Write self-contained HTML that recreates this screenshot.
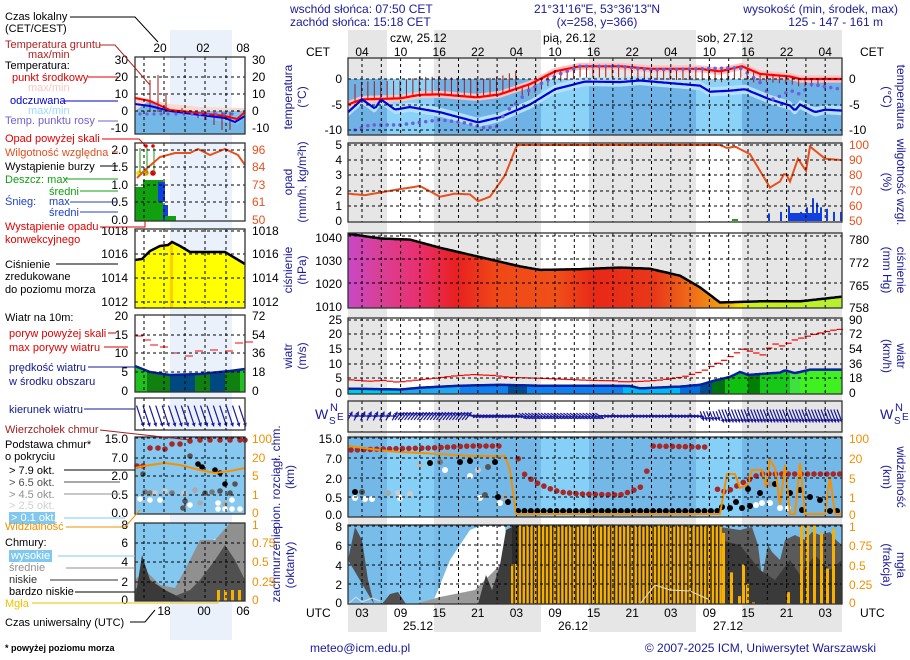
<!DOCTYPE html>
<html><head><meta charset="utf-8">
<style>
html,body{margin:0;padding:0;background:#fff;}
svg{display:block;font-family:"Liberation Sans",sans-serif;}
</style></head>
<body>
<svg id="s" xmlns="http://www.w3.org/2000/svg" width="910" height="660" viewBox="0 0 910 660"></svg>
<script>
const S=document.getElementById('s');let H='';
function add(s){H+=s;}
function pl(pts){return pts.map(p=>p[0].toFixed(1)+','+p[1].toFixed(1)).join(' ');}
function line(pts,c,w,ex){add(`<polyline points="${pl(pts)}" fill="none" stroke="${c}" stroke-width="${w}" ${ex||''}/>`);}
function poly(pts,f,ex){add(`<polygon points="${pl(pts)}" fill="${f}" ${ex||''}/>`);}
function rect(x,y,w,h,f,ex){add(`<rect x="${x}" y="${y}" width="${w}" height="${h}" fill="${f}" ${ex||''}/>`);}
function txt(x,y,t,o){o=o||{};add(`<text x="${x}" y="${y}" font-size="${o.fs||12}" fill="${o.c||'#000'}" text-anchor="${o.a||'start'}" ${o.ex||''}>${t}</text>`);}
function interp(d,x){if(x<=d[0][0])return d[0][1];for(let i=1;i<d.length;i++){if(x<=d[i][0]){const a=d[i-1],b=d[i];return a[1]+(b[1]-a[1])*(x-a[0])/(b[0]-a[0]);}}return d[d.length-1][1];}
function curve(d,fy,step){const r=[];for(let x=d[0][0];x<=d[d.length-1][0]+0.01;x+=(step||2))r.push([x,fy(interp(d,x))]);return r;}
const X0=348,X1=842;const NAVY='#1a1a9a';
const nights=[[348,387],[434,541],[589,696],[742,842]];
nights.forEach(n=>rect(n[0],30,n[1]-n[0],602,'#e6e6e6'));
rect(170,30,62,610,'#eaf1fb');
function dayBlue(y0,y1,night,day){rect(X0,y0,X1-X0,y1-y0,day);nights.forEach(n=>rect(n[0],y0,n[1]-n[0],y1-y0,night));}
function vgrid(y0,y1){for(let k=0;k<25;k++){const x=362+19.3*k;if(x<X1)add(`<line x1="${x}" y1="${y0}" x2="${x}" y2="${y1}" stroke="#000" stroke-width="1" stroke-dasharray="3,3"/>`);}}
function hgrid(ys,x0,x1){ys.forEach(y=>add(`<line x1="${x0}" y1="${y}" x2="${x1}" y2="${y}" stroke="#000" stroke-width="1" stroke-dasharray="3,3"/>`));}
function border(x0,y0,x1,y1){add(`<rect x="${x0}" y="${y0}" width="${x1-x0}" height="${y1-y0}" fill="none" stroke="#333" stroke-width="1.3"/>`);}
// TEMPERATURE
const ty=T=>79-5.1*T;
dayBlue(79,135,'#6fb3e6','#8ad2f8');
const red=[[348,-5],[362,-4],[400,-3.8],[420,-3.1],[440,-3],[477,-3.6],[500,-3],[530,-1],[555,1.5],[580,2.5],[620,2.5],[650,2],[700,2],[720,1.5],[742,2.5],[760,1],[790,0.5],[800,0],[842,0]];
const blu=[[348,-6.5],[362,-4],[375,-5.8],[381,-4],[395,-6],[410,-5.5],[440,-6.5],[478,-8.5],[500,-7.5],[530,-5],[555,-2],[585,-0.5],[620,-0.6],[640,-0.3],[700,-1.3],[710,-2.5],[730,-2.3],[745,-2],[770,-4],[790,-5.2],[795,-6.2],[800,-5],[815,-6.5],[825,-6],[842,-6.2]];
const bu=curve(blu,t=>ty(t+0.9)),bl=curve(blu,t=>ty(t-0.9)).reverse();poly(bu.concat(bl),'#b4e2fc');
const ru=curve(red,t=>ty(t+0.7)),rl=curve(red,t=>ty(t-0.7)).reverse();poly(ru.concat(rl),'#f9c4c4');
for(let x=355;x<830;x+=6.43){const t=interp(red,x);const up=x<520?3.5:(x<760?-2.2:-1.5);add(`<line x1="${x}" y1="${ty(t)}" x2="${x}" y2="${ty(t+up)}" stroke="#a01818" stroke-width="1"/>`);}
line(curve(red,ty),'#ff0000',2.2);line(curve(blu,ty),'#0000e0',2.2);
const dew=[[355,-10],[370,-9],[400,-9],[420,-8.5],[440,-8],[465,-8.6],[485,-9.6],[498,-9.3],[505,-6.5],[515,-5],[530,-2],[560,1],[580,2.5],[620,2.5],[650,1.8],[700,2],[740,2.2],[752,0.5],[762,-1],[772,-4],[782,-3.2],[790,-2.2],[800,-3],[812,-1],[825,-1.5],[842,-2]];
for(let x=355;x<842;x+=6.43)add(`<circle cx="${x}" cy="${ty(interp(dew,x))}" r="1.8" fill="#7060d8"/>`);
vgrid(58,135);hgrid([79,105,130],X0,X1);border(X0,58,X1,135);
// PRECIP
const py=v=>221-15.2*v;
const hum=[[348,1.8],[365,1.7],[400,2.1],[420,2.3],[440,1.6],[455,1.8],[470,1.75],[478,1.3],[490,1.6],[505,3],[517,5],[720,5],[727,4.8],[735,4.9],[750,4.4],[770,2.2],[780,2.6],[785,3.2],[790,2.6],[798,4.1],[806,3.3],[810,4.9],[825,4.1],[842,4.0]];
rect(788,213,34,8,'#1040e0');
[[768,0.5],[780,0.6],[788,1.0],[795,0.3],[800,0.6],[806,0.9],[812,1.5],[816,1.2],[820,0.9],[826,0.8],[833,0.6],[840,0.6]].forEach(b=>rect(b[0],py(b[1]),2,221-py(b[1]),'#1040e0'));
rect(732,219,6,2,'#20a020');
line(curve(hum,py),'#e8501c',2);
vgrid(143,222);hgrid([145,160,175,191,206],X0,X1);border(X0,143,X1,222);
// PRESSURE
const pry=p=>306-2.33*(p-1010);
add(`<defs><linearGradient id="pg" x1="348" x2="842" y1="0" y2="0" gradientUnits="userSpaceOnUse">
<stop offset="0" stop-color="#c848c8"/><stop offset="0.06" stop-color="#d84098"/><stop offset="0.14" stop-color="#e83070"/><stop offset="0.22" stop-color="#e82020"/><stop offset="0.3" stop-color="#f04818"/><stop offset="0.42" stop-color="#f05018"/><stop offset="0.5" stop-color="#e82818"/><stop offset="0.62" stop-color="#e83818"/><stop offset="0.7" stop-color="#f07018"/><stop offset="0.76" stop-color="#f0a010"/><stop offset="0.79" stop-color="#f0e000"/><stop offset="0.82" stop-color="#c8f020"/><stop offset="1" stop-color="#b4f030"/></linearGradient></defs>`);
const prs=[[348,1041],[380,1039],[410,1038.5],[440,1035],[480,1031],[520,1027],[540,1025.5],[580,1025.8],[620,1026.5],[650,1026],[680,1023],[700,1018],[720,1011.5],[760,1012],[800,1012],[842,1014]];
const pc=curve(prs,pry);poly(pc.concat([[842,308],[348,308]]),'url(#pg)');
vgrid(233,308);hgrid([236,259,283],X0,X1);line(pc,'#000',2.5);border(X0,233,X1,308);
// WIND
const wy=v=>393-2.92*v;
const ws=[[348,1.5],[400,1.2],[420,1.8],[460,2.5],[500,2.8],[540,2.5],[600,2.5],[630,2.4],[640,1.6],[680,2.2],[700,2.8],[715,4.3],[730,5.5],[740,7.2],[748,6.2],[760,6.5],[780,7.0],[785,7.8],[795,6.8],[810,8],[842,8]];
const wcols=[[348,400,'#00c8e8'],[400,460,'#20a8f0'],[460,508,'#1080f0'],[508,527,'#004a90'],[527,623,'#1080f0'],[623,680,'#00b8f8'],[680,700,'#0070e0'],[700,712,'#004a90'],[712,725,'#007010'],[725,748,'#10c010'],[748,760,'#008000'],[760,790,'#18c818'],[790,800,'#40e040'],[800,842,'#40f020']];
add('<defs><clipPath id="wc"><polygon points="'+pl(curve(ws,wy).concat([[842,394],[348,394]]))+'"/></clipPath></defs>');
wcols.forEach(c=>rect(c[0],318,c[1]-c[0],76,c[2],'clip-path="url(#wc)"'));
line(curve(ws,wy),'#0820a0',2.5);
const gu=[[348,4.5],[365,4.0],[380,4.3],[395,3.7],[410,4.3],[430,5.0],[450,5.8],[470,6.3],[490,6.0],[510,5.3],[540,5.0],[560,4.7],[590,4.3],[610,4.2],[620,3.8],[640,4.0],[660,4.5],[680,5.5],[700,7.5],[710,9.5],[720,11],[740,15],[750,14],[760,13],[770,17],[780,16],[790,18],[810,20],[830,21.5],[842,22]];
for(let x=348;x<842;x+=6.43)add(`<line x1="${x}" y1="${wy(interp(gu,x))}" x2="${x+6.4}" y2="${wy(interp(gu,x))}" stroke="#ff0000" stroke-width="1.2"/>`);
vgrid(318,394);hgrid([320,334,349,364,378],X0,X1);border(X0,318,X1,394);
// DIRECTION
function arrow(x,y,ang,len,c){const dx=Math.cos(ang)*len/2,dy=Math.sin(ang)*len/2;add(`<line x1="${x-dx}" y1="${y-dy}" x2="${x+dx}" y2="${y+dy}" stroke="${c}" stroke-width="1.2"/>`);const a1=ang+2.6,a2=ang-2.6;add(`<polygon points="${x+dx},${y+dy} ${x+dx+Math.cos(a1)*4},${y+dy+Math.sin(a1)*4} ${x+dx+Math.cos(a2)*4},${y+dy+Math.sin(a2)*4}" fill="${c}"/>`);}
for(let x=350;x<842;x+=3.2){let a;if(x<395)a=-0.5+Math.sin(x)*0.6;else if(x<470)a=-0.9;else if(x<520)a=0.2;else if(x<600)a=0.6;else if(x<700)a=0.1;else a=1.2;arrow(x,416,a,x>720?14:10,NAVY);}
vgrid(401,432);border(X0,401,X1,432);
// CLOUD BASE
dayBlue(437,517,'#74b8e8','#86d0f8');
const vis=[[348,446],[387,451],[400,452],[440,454],[470,456],[505,456],[510,470],[516,514],[720,514],[727,474],[735,474],[740,488],[748,484],[752,470],[762,470],[766,487],[770,460],[775,468],[780,505],[785,465],[790,514],[795,514],[800,463],[805,514],[825,514],[830,477],[835,514],[842,514]];
function dot(x,y,c,r){add(`<circle cx="${x}" cy="${y}" r="${r||3}" fill="${c}"/>`);}
const tops=[[355,450],[380,449],[430,448],[470,446],[515,446],[520,466],[525,475],[535,482],[548,488],[560,492],[580,494],[620,495],[632,491],[645,485],[650,446],[700,447],[712,447],[718,493],[730,490],[740,484],[750,479],[760,474],[842,474]];
for(let x=351;x<842;x+=6.43){if((x>500&&x<515)||(x>705&&x<715))continue;dot(x,interp(tops,x),'#a82828',2.8);}
for(let x=518;x<718;x+=6.43)dot(x,511,'#000',3);
[[355,492,'#000'],[362,492,'#555'],[355,498,'#fff'],[365,499,'#fff'],[372,499,'#fff'],[388,493,'#aaa'],[398,493,'#ccc'],[410,494,'#ccc'],[400,498,'#fff'],[420,465,'#bbb'],[430,463,'#000'],[440,462,'#777'],[445,470,'#fff'],[460,462,'#000'],[470,461,'#000'],[478,470,'#ccc'],[470,476,'#fff'],[488,467,'#555'],[495,462,'#000'],[480,498,'#fff'],[485,495,'#555'],[498,497,'#000'],[500,503,'#fff'],[508,502,'#000'],[505,497,'#aaa'],[722,507,'#000'],[730,508,'#000'],[736,502,'#000'],[742,508,'#000'],[750,506,'#000'],[756,505,'#fff'],[748,489,'#000'],[760,493,'#000'],[770,484,'#999'],[775,484,'#000'],[762,503,'#fff'],[770,503,'#fff'],[780,508,'#fff'],[788,508,'#fff'],[790,493,'#000'],[800,490,'#000'],[802,510,'#000'],[810,497,'#000'],[820,500,'#000'],[830,511,'#000'],[837,511,'#000']].forEach(d=>dot(d[0],d[1],d[2]));
line(curve(vis,y=>y,1),'#f59000',2);
vgrid(437,517);hgrid([438,458,478,497],X0,X1);border(X0,437,X1,517);
// CLOUD COVER
rect(X0,525,X1-X0,79,'#80c4f0');nights.forEach(n=>rect(n[0],525,n[1]-n[0],79,'#78bce9'));
poly([[432,604],[440,585],[450,560],[460,545],[470,530],[480,526],[505,526],[512,604]],'#ffffff');
poly([[415,604],[440,597],[460,593],[475,590],[490,575],[505,560],[512,604]],'#9a9a9a');
poly([[348,560],[355,527],[362,540],[368,580],[374,604]],'#505050');
poly([[382,604],[390,594],[398,592],[406,604]],'#505050');
poly([[478,604],[486,575],[492,590],[500,565],[506,530],[512,527],[514,604]],'#3c3c3c');
poly([[720,527],[740,530],[752,527],[758,545],[762,578],[768,545],[772,552],[780,560],[785,540],[795,535],[805,540],[812,532],[820,535],[830,532],[836,540],[842,545],[842,604],[720,604]],'#5a5a5a');
poly([[720,540],[740,545],[760,570],[775,580],[790,560],[800,575],[815,555],[830,570],[842,560],[842,604],[720,604]],'#3a3a3a');
rect(512,525,208,79,'#2c2c2c');
for(let x=511;x<720;x+=3.86){const h=x<515?40:79;rect(x,604-h,2.4,h,'#f8b000');}
[[722,0.9],[730,0.4],[738,0.1],[742,0.5],[746,0.25],[752,0.02],[787,0.15],[800,1],[806,1],[813,1],[820,0.9],[826,0.45],[832,0.95]].forEach(b=>rect(b[0],604-79*b[1],3,79*b[1],'#f8b000'));
line([[348,604],[356,597],[362,602],[372,598],[380,601]],'#ddd',1);line([[640,604],[655,585],[670,590],[690,591],[710,600]],'#ddd',1);
vgrid(525,604);hgrid([526,545,565,584],X0,X1);border(X0,525,X1,604);
// AXES MAIN
const L=342,R=849;
function ax(ys,vals,x,anchor,c){ys.forEach((y,i)=>txt(x,y+4,vals[i],{a:anchor,c:c||'#000'}));}
ax([79,105,130],['0','-5','-10'],L,'end');ax([79,105,130],['0','-5','-10'],R,'start');
ax([145,160,175,191,206,221],['5','4','3','2','1','0'],L,'end');ax([145,160,175,191,206,221],['100','90','80','70','60','50'],R,'start','#e8501c');
ax([238,261,284,307],['1040','1030','1020','1010'],L,'end');ax([240,263,286,308],['780','772','765','758'],R,'start');
ax([320,334,349,364,378,393],['25','20','15','10','5','0'],L,'end');ax([320,334,349,364,378,393],['90','72','54','36','18','0'],R,'start');
ax([439,459,479,498,515],['15.0','7.0','2.0','0.5','0.0'],L,'end');ax([439,459,479,498,515],['100','20','5','1','0'],R,'start','#f09000');
ax([527,546,566,585,603],['8','6','4','2','0'],L,'end');ax([527,546,566,585,603],['1','0.75','0.5','0.25','0'],R,'start','#f09000');
txt(315,419,'W',{c:NAVY,fs:14});txt(330,411,'N',{c:NAVY,fs:11});txt(329,424,'S',{c:NAVY,fs:10});txt(337,420,'E',{c:NAVY,fs:10});
txt(880,419,'W',{c:NAVY,fs:14});txt(895,411,'N',{c:NAVY,fs:11});txt(894,424,'S',{c:NAVY,fs:10});txt(902,420,'E',{c:NAVY,fs:10});
function vt(x,y,lines,rot){const a=rot||-90;lines.forEach((t,i)=>{add(`<text transform="translate(${x+(a<0?i*14:-i*14)},${y}) rotate(${a})" font-size="12" fill="${NAVY}" text-anchor="middle">${t}</text>`);});}
vt(292,97,['temperatura','(°C)']);vt(292,182,['opad','(mm/h, kg/m²h)']);vt(292,270,['ciśnienie','(hPa)']);vt(292,356,['wiatr','(m/s)']);vt(280,477,['pion. rozciągł. chm.','(km)']);vt(280,565,['zachmurzenie','(oktanty)']);
vt(897,97,['temperatura','(°C)'],90);vt(897,182,['wilgotność wzgl.','(%)'],90);vt(897,270,['ciśnienie','(mm Hg)'],90);vt(897,356,['wiatr','(km/h)'],90);vt(897,477,['widzialność','(km)'],90);vt(897,565,['mgła','(frakcja)'],90);
const hl=['04','10','16','22','04','10','16','22','04','10','16','22','04'];const ul=['03','09','15','21','03','09','15','21','03','09','15','21','03'];
hl.forEach((t,i)=>txt(362+38.6*i,56,t,{a:'middle'}));ul.forEach((t,i)=>txt(362+38.6*i,617,t,{a:'middle'}));
txt(306,56,'CET');txt(860,56,'CET');txt(306,617,'UTC');txt(860,617,'UTC');
txt(390,42,'czw, 25.12');txt(543,42,'pią, 26.12');txt(697,42,'sob, 27.12');
txt(418,630,'25.12',{a:'middle'});txt(573,630,'26.12',{a:'middle'});txt(728,630,'27.12',{a:'middle'});
txt(290,13,'wschód słońca: 07:50 CET',{c:NAVY});txt(290,26,'zachód słońca: 15:18 CET',{c:NAVY});
txt(597,13,'21°31\'16"E, 53°36\'13"N',{c:NAVY,a:'middle'});txt(597,26,'(x=258,  y=366)',{c:NAVY,a:'middle'});
txt(898,13,'wysokość (min, środek, max)',{c:NAVY,a:'end'});txt(883,26,'125 - 147 - 161 m',{c:NAVY,a:'end'});
txt(310,652,'meteo@icm.edu.pl',{c:NAVY});txt(876,652,'© 2007-2025 ICM, Uniwersytet Warszawski',{c:NAVY,a:'end'});
// LEFT PANELS
const lx0=135,lx1=245;
function lvgrid(y0,y1){[144,164,185,205,226].forEach(x=>add(`<line x1="${x}" y1="${y0}" x2="${x}" y2="${y1}" stroke="#000" stroke-dasharray="3,3"/>`));}
rect(lx0,111,110,23,'#80c4f0');
poly([[135,96],[170,104],[200,107],[245,108],[245,111],[135,111]],'#f9d8d0');
poly([[135,111],[150,100],[160,108],[175,113],[200,118],[225,122],[237,125],[245,118],[245,134],[135,134]],'#74b8e8');
[150,158,166,174,182,190,198,206,214,222,230,238].forEach((x,i)=>add(`<line x1="${x}" y1="${[80,75,95,110,108,110,118,120,125,130,130,110][i]}" x2="${x}" y2="${112}" stroke="#a01818"/>`));
line([[135,104],[150,106],[170,111],[200,115],[225,118],[235,122],[245,116]],'#0000e0',2);
line([[135,98],[150,101],[170,110],[200,113],[225,116],[237,119],[245,112]],'#ff0000',2);
[140,147,154,161,168,176,184,192,200,208,216,224,232].forEach(x=>dot(x,114,'#7060d8',1.6));
lvgrid(57,134);hgrid([77,94,111],lx0,lx1);border(lx0,57,lx1,134);
ax([60,77,94,111,128],['30','20','10','0','-10'],128,'end');ax([60,77,94,111,128],['30','20','10','0','-10'],252,'start');
rect(135,187,25,34,'#10a010');rect(143,180,20,41,'#10a010');rect(158,182,7,20,'#1040e0');rect(163,205,5,16,'#1040e0');rect(165,216,11,5,'#10a010');
[[139,'#f0e000'],[146,'#f0a000'],[153,'#e00000']].forEach(d=>{dot(d[0],173,d[1],2.8);add(`<line x1="${d[0]+1}" y1="173" x2="${d[0]+1}" y2="148" stroke="#10a010"/>`);});
dot(146,146,'#e00000',1.8);dot(153,146,'#e00000',1.8);
line([[137,178],[145,170],[160,157],[175,153],[190,153],[198,149],[210,155],[225,149],[238,155],[245,165]],'#e8501c',2);
lvgrid(143,221);hgrid([150,167,185,202],lx0,lx1);border(lx0,143,lx1,221);
ax([150,167,185,202,220],['2.0','1.5','1.0','0.5','0.0'],128,'end');ax([150,167,185,202,220],['96','84','73','61','50'],252,'start','#e8501c');
const lp=[[135,260],[142,259],[150,251],[160,246],[168,245],[172,242],[180,246],[190,252],[225,252],[235,258],[245,264]];
poly(lp.concat([[245,308],[135,308]]),'#ffff00');rect(170,244,3,64,'#ffd000');
lvgrid(229,308);hgrid([231,254,278,302],lx0,lx1);line(lp,'#000',2.5);border(lx0,229,lx1,308);
ax([231,254,278,302],['1018','1016','1014','1012'],128,'end');ax([231,254,278,302],['1018','1016','1014','1012'],252,'start');
const lw=[[135,366],[150,372],[170,375],[200,374],[230,371],[245,369]];
add('<defs><clipPath id="lwc"><polygon points="'+pl(lw.concat([[245,392],[135,392]]))+'"/></clipPath></defs>');
[[135,147,'#20c020'],[147,170,'#108010'],[170,195,'#004880'],[195,210,'#108010'],[210,225,'#004880'],[225,240,'#108010'],[240,245,'#20c020']].forEach(c=>rect(c[0],315,c[1]-c[0],77,c[2],'clip-path="url(#lwc)"'));
line(lw,'#0820a0',2.5);
[[135,336],[143,340],[150,345],[160,347],[172,353],[185,356],[195,351],[210,350],[225,351],[235,343],[245,342]].forEach(p=>add(`<line x1="${p[0]}" y1="${p[1]}" x2="${p[0]+8}" y2="${p[1]}" stroke="#ff0000"/>`));
lvgrid(315,392);hgrid([335,353,372],lx0,lx1);border(lx0,315,lx1,392);
ax([316,335,353,372,391],['20','15','10','5','0'],128,'end');ax([316,335,353,372,391],['72','54','36','18','0'],252,'start');
for(let x=140;x<248;x+=6.4)arrow(x,416,1.25,22,NAVY);
border(lx0,398,lx1,430);lvgrid(398,430);
rect(lx0,437,110,77,'#86c8f0');
[[150,448],[158,448],[165,449],[172,444],[180,444],[190,441],[200,440],[210,440],[220,440],[230,440],[240,440],[245,440]].forEach(d=>dot(d[0],d[1],'#a82828',2.8));
[[137,466],[143,466]].forEach(d=>dot(d[0],d[1],'#a82828',2.8));
[[190,456],[198,464],[202,467],[215,470],[220,473],[225,484],[235,484],[143,474],[145,492],[150,493],[155,493],[165,491],[172,493],[184,493],[195,490],[205,493],[212,492],[220,491],[230,493],[140,499],[150,500],[160,500],[185,501],[190,505],[200,503],[218,503],[225,504],[232,500],[218,509],[225,509],[232,509],[240,509],[183,508]].forEach((d,i)=>dot(d[0],d[1],['#555','#000','#000','#000','#000','#000','#555','#555','#777','#777','#ccc','#ccc','#777','#ccc','#aaa','#555','#777','#555','#555','#fff','#fff','#fff','#555','#fff','#aaa','#fff','#aaa','#fff','#fff','#fff','#fff','#fff','#555'][i]||'#fff',2.8));
line([[135,468],[150,465],[165,463],[180,465],[200,470],[215,473],[230,471],[245,468]],'#f59000',2);
lvgrid(437,514);hgrid([438,458,476,495],lx0,lx1);border(lx0,437,lx1,514);
ax([439,458,476,495,513],['15.0','7.0','2.0','0.5','0.0'],128,'end');ax([439,458,476,495,513],['100','20','5','1','0'],252,'start','#f09000');
rect(lx0,523,110,78,'#84c8f0');
poly([[175,601],[185,570],[195,555],[205,547],[213,540],[220,537],[230,530],[240,525],[245,523],[245,601]],'#ffffff');
poly([[135,601],[135,580],[145,570],[160,585],[175,588],[190,560],[200,540],[215,540],[230,523],[245,523],[245,601]],'#909090');
poly([[135,601],[135,590],[142,580],[148,578],[160,590],[175,596],[190,590],[200,580],[215,560],[225,545],[235,560],[245,580],[245,601]],'#505050');
poly([[135,601],[142,555],[150,580],[165,590],[175,595],[185,601]],'#3a3a3a');
[217,224,231,238].forEach(x=>rect(x,590,3,11,'#f8b000'));
lvgrid(523,601);hgrid([543,562,582],lx0,lx1);border(lx0,523,lx1,601);
ax([525,543,562,582,600],['8','6','4','2','0'],128,'end');ax([525,543,562,582,600],['1','0.75','0.5','0.25','0'],252,'start','#f09000');
txt(160,52,'20',{a:'middle'});txt(203,52,'02',{a:'middle'});txt(243,52,'08',{a:'middle'});
txt(164,615,'18',{a:'middle'});txt(204,615,'00',{a:'middle'});txt(243,615,'06',{a:'middle'});
const lg=[[5,20,'Czas lokalny','#000'],[5,32,'(CET/CEST)','#000'],[5,48,'Temperatura gruntu','#b02020'],[28,58,'max/min','#b02020'],[5,69,'Temperatura:','#000'],[12,81,'punkt środkowy','#e00000'],[28,91,'max/min','#f8c8c0'],[10,104,'odczuwana','#0000d0'],[28,114,'max/min','#a0d8f8'],[5,124,'Temp. punktu rosy','#7060d0'],[5,142,'Opad powyżej skali','#e00000'],[5,156,'Wilgotność względna','#e05020'],[5,170,'Wystąpienie burzy','#000'],[5,183,'Deszcz: max','#10a010'],[49,195,'średni','#10a010'],[5,205,'Śnieg:','#2040c0'],[49,205,'max','#2040c0'],[49,216,'średni','#2040c0'],[5,230,'Wystąpienie opadu','#e00000'],[5,243,'konwekcyjnego','#e00000'],[5,268,'Ciśnienie','#000'],[5,280,'zredukowane','#000'],[5,293,'do poziomu morza','#000'],
[5,321,'Wiatr na 10m:','#000'],[9,337,'poryw powyżej skali','#e00000'],[9,351,'max porywy wiatru','#e00000'],[9,371,'prędkość wiatru','#101890'],[9,385,'w środku obszaru','#101890'],[9,413,'kierunek wiatru','#101890'],[5,433,'Wierzchołek chmur','#a02020'],[5,448,'Podstawa chmur*','#000'],[5,460,'o pokryciu','#000'],[9,474,'&gt; 7.9 okt.','#000'],[9,486,'&gt; 6.5 okt.','#505050'],[9,498,'&gt; 4.5 okt.','#909090'],[9,509,'&gt; 2.5 okt.','#d0d0d0'],[5,530,'Widzialność','#f09000'],[5,546,'Chmury:','#000'],[9,571,'średnie','#909090'],[9,583,'niskie','#303030'],[9,595,'bardzo niskie','#000'],[5,607,'Mgła','#f0c000'],[5,626,'Czas uniwersalny (UTC)','#000']];
rect(9,512,46,12,'#80c8f0');rect(9,550,43,12,'#80c8f0');
function ll(pts,c){line(pts,c,1);}
ll([[70,17],[135,17],[158,42]],'#000');ll([[100,45],[115,45],[150,85]],'#b02020');ll([[88,77],[118,77]],'#e00000');ll([[62,101],[118,101]],'#0000d0');ll([[98,121],[118,121]],'#7060d0');
ll([[102,139],[139,139],[145,145]],'#e00000');ll([[112,152],[118,152]],'#e05020');ll([[100,166],[118,166]],'#000');ll([[64,179],[118,179]],'#10a010');ll([[80,191],[118,191]],'#10a010');ll([[70,202],[118,202]],'#2040c0');ll([[80,212],[118,212]],'#2040c0');ll([[100,227],[145,227],[145,221]],'#e00000');
ll([[56,264],[118,264]],'#000');ll([[108,333],[116,333]],'#e00000');ll([[104,347],[128,347]],'#e00000');ll([[88,367],[135,367]],'#101890');ll([[84,409],[135,409]],'#101890');ll([[100,430],[190,440]],'#a02020');
ll([[64,470],[135,470]],'#000');ll([[64,482],[120,482]],'#505050');ll([[64,494],[120,494]],'#909090');ll([[64,518],[125,518]],'#80c8f0');ll([[66,527],[125,527],[140,510]],'#f09000');ll([[58,556],[135,556]],'#80c8f0');ll([[66,568],[135,568]],'#909090');ll([[50,580],[118,580]],'#303030');ll([[75,592],[135,592]],'#000');ll([[32,603],[218,603],[218,592]],'#f0c000');ll([[130,622],[145,622],[155,610]],'#000');
lg.forEach(l=>txt(l[0],l[1],l[2],{c:l[3],fs:11}));
txt(11,521,'&gt; 0.1 okt.',{c:'#fff',fs:11});txt(11,559,'wysokie',{c:'#fff',fs:11});
txt(5,651,'* powyżej poziomu morza',{fs:9,ex:'font-weight="bold"'});
S.innerHTML=H;
</script>
</body></html>
